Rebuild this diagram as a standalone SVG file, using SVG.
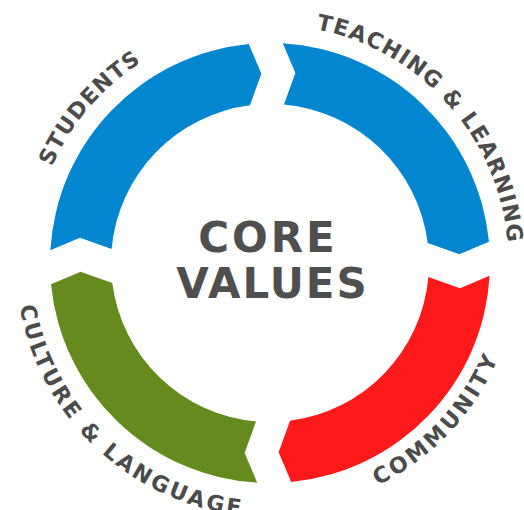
<svg xmlns="http://www.w3.org/2000/svg" xmlns:xlink="http://www.w3.org/1999/xlink" width="524" height="510" viewBox="0 0 524 510">
  <style>
    .lbl { font-family: "DejaVu Sans", "Liberation Sans", sans-serif; font-weight: bold; font-size: 22px; fill: #4b4b4b; }
    .core { font-family: "DejaVu Sans", "Liberation Sans", sans-serif; font-weight: bold; font-size: 42px; fill: #4f4f4f; text-anchor: middle; }
  </style>
  <defs>
    <path id="seg" d="M 50.66 246 A 220 220 0 0 1 253 43.66 L 265 73.5 L 253 104.91 A 159 159 0 0 0 111.91 246 L 80.5 234 Z"/>
    <path id="top239" d="M 31.5 263 A 238.5 238.5 0 0 1 508.5 263"/>
    <path id="bot254" d="M 16 263 A 254 254 0 0 0 524 263"/>
    <path id="bot247" d="M 23 263 A 247 247 0 0 0 517 263"/>
  </defs>
  <rect width="524" height="510" fill="#ffffff"/>
  <g id="ring" transform="rotate(-1.1 270 263)">
    <g id="students"><use xlink:href="#seg" href="#seg" fill="#0386d0"/></g>
    <g id="teaching-learning"><use xlink:href="#seg" href="#seg" fill="#0386d0" transform="rotate(90 270 263)"/></g>
    <g id="community"><use xlink:href="#seg" href="#seg" fill="#fe1a1a" transform="rotate(180 270 263)"/></g>
    <g id="culture-language"><use xlink:href="#seg" href="#seg" fill="#658b1f" transform="rotate(270 270 263)"/></g>
  </g>
  <g id="labels">
    <text class="lbl" text-anchor="middle" letter-spacing="1.15"><textPath xlink:href="#top239" href="#top239" startOffset="169.3">STUDENTS</textPath></text>
    <text class="lbl" text-anchor="middle" letter-spacing="1.15"><textPath xlink:href="#top239" href="#top239" startOffset="575">TEACHING &amp; LEARNING</textPath></text>
    <text class="lbl" text-anchor="middle" letter-spacing="3"><textPath xlink:href="#bot247" href="#bot247" startOffset="589.7">COMMUNITY</textPath></text>
    <text class="lbl" text-anchor="middle" letter-spacing="2.75"><textPath xlink:href="#bot254" href="#bot254" startOffset="207.6">CULTURE &amp; LANGUAGE</textPath></text>
  </g>
  <g id="core-values">
    <text class="core" x="268" y="252" letter-spacing="3">CORE</text>
    <text class="core" x="272.5" y="298" letter-spacing="2">VALUES</text>
  </g>
</svg>
